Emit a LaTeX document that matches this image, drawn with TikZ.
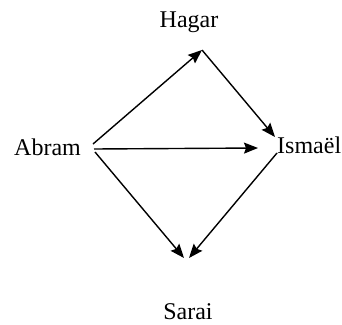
\documentclass[tikz,border=0pt]{standalone}
\usepackage{fontspec}
\setmainfont{Liberation Serif}
\usetikzlibrary{arrows.meta}
\begin{document}
\begin{tikzpicture}[x=1pt,y=-1pt,
  lbl/.style={inner sep=0pt,font=\fontsize{24}{28}\selectfont},
  conn/.style={line width=1.4pt,-{Stealth[length=14pt,width=11pt,inset=2pt]}}]
\useasboundingbox (0,0) rectangle (342,324);
% labels
\node[lbl,anchor=base] (hagar) at (189,27) {Hagar};
\node[lbl,anchor=base west] (abram) at (14,155) {Abram};
\node[lbl,anchor=base west] (ismael) at (277,153) {Ismaël};
\node[lbl,anchor=base] (sarai) at (188,319) {Sarai};
% connector points
\coordinate (abU) at (93,144);
\coordinate (abM) at (94,149);
\coordinate (abD) at (95,152);
\coordinate (haP) at (202,50);
\coordinate (isIn) at (275,137);
\coordinate (isM) at (258,148);
\coordinate (isOut) at (277,153);
\coordinate (saL) at (184,258);
\coordinate (saR) at (189,258);
% connectors
\draw[conn] (abU) -- (haP);
\draw[conn] (haP) -- (isIn);
\draw[conn] (abM) -- (isM);
\draw[conn] (abD) -- (saL);
\draw[conn] (isOut) -- (saR);
\end{tikzpicture}
\end{document}
